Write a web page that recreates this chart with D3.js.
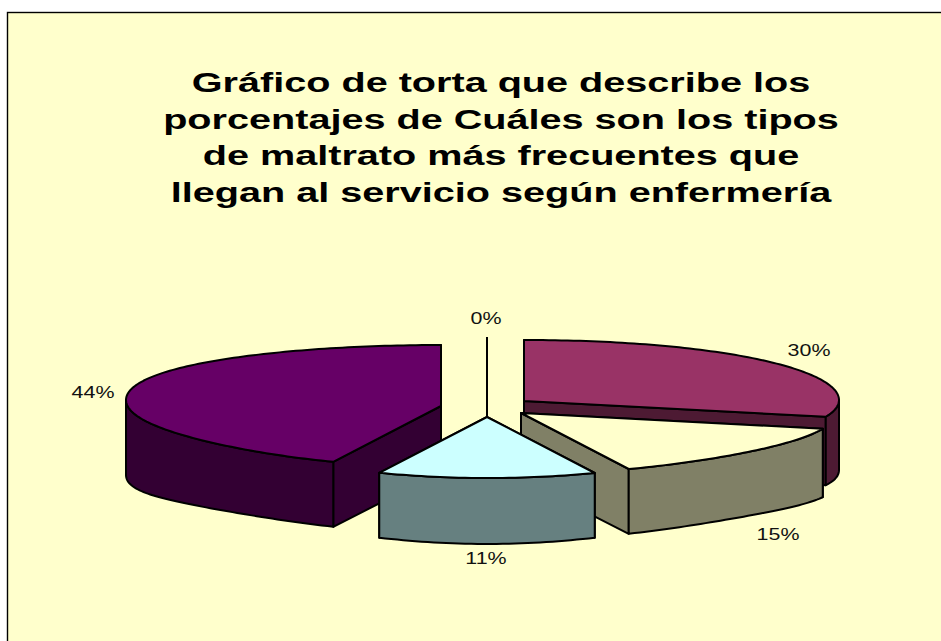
<!DOCTYPE html>
<html><head><meta charset="utf-8">
<script src="https://cdn.jsdelivr.net/npm/d3@7/dist/d3.min.js"></script>
<style>html,body{margin:0;padding:0;background:#fff}svg{display:block}</style>
</head><body><svg id="c" width="941" height="641"></svg>
<script>
const categories = ["a","b","c","d","e"];
const values = [29.6,14.8,11.1,44.4,0];
const titleLines = ["Gráfico de torta que describe los","porcentajes de Cuáles son los tipos","de maltrato más frecuentes que","llegan al servicio según enfermería"];
const topColors = ["#993366","#FFFFCC","#CCFFFF","#660066","#000000"];
const wallColors = ["#4D1A33","#808066","#668080","#330033","#000000"];

// layout: exploded apex of each slice, label centres
const apexX = {a:524,b:521,c:487,d:441,e:487};
const apexY = {a:401,b:413,c:417,d:406,e:398};
const labelPos = {a:[809,350],b:[778,534],c:[486,558],d:[93,392],e:[486,318]};
const rx = d3.scaleLinear().domain([-1,1]).range([-315,315]);
const ry = d3.scaleLinear().domain([-1,1]).range([-61,61]);
const depth = 66;

const svg = d3.select("#c");
svg.append("rect").attr("x",7.5).attr("y",12.5).attr("width",960).attr("height",660)
  .attr("fill","#FFFFCC").attr("stroke","#000").attr("stroke-width",1.4);

svg.append("g").selectAll("text").data(titleLines).join("text")
  .attr("transform",(d,i)=>`translate(501,${92+i*36.6}) scale(1.39,1)`).attr("text-anchor","middle")
  .attr("font-family","'Liberation Sans',Arial,sans-serif").attr("font-weight","bold").attr("font-size",28.5)
  .text(d=>d);

const pie = d3.pie().sort(null).value(d=>d.v);
const slices = pie(categories.map((c,i)=>({c,v:values[i],top:topColors[i],wall:wallColors[i]})));

// slight flattening of the near side of the ellipse, as in the projected original
function flat(v,k){return v>0 ? v-k*v*v*(1-v*v) : v;}
function rim(d,t,lower){
  const u=Math.sin(t), v=-Math.cos(t), a=d.data.c;
  const bulge=(3.5-2.5*u)*(1-v*v);
  return [apexX[a]+rx(u), lower
    ? apexY[a]+depth+ry(flat(v,0.46))+3*(1-v*v)
    : apexY[a]+ry(flat(v,0.16))-bulge];
}
function apex(d,lower){return [apexX[d.data.c],apexY[d.data.c]+(lower?depth:0)];}
function arcPts(d,t0,t1,lower){
  const n=Math.max(2,Math.ceil(Math.abs(t1-t0)/0.02));
  return d3.range(n+1).map(i=>rim(d,t0+(t1-t0)*i/n,lower));
}
const line=d3.line();
const g=svg.append("g").attr("stroke","#000").attr("stroke-width",2).attr("stroke-linejoin","round");
// paint order: zero slice, back-left, right, middle, front
const order=[4,3,0,1,2];
order.forEach(k=>{
  const d=slices[k], s=d.startAngle, e=d.endAngle;
  if(d.value===0){
    const t=rim(d,s,false), b=apex(d,true);
    g.append("path").attr("d",line([t,[b[0],b[1]]])).attr("fill","none");
    return;
  }
  [s,e].forEach(t=>{
    const p=[apex(d,false),rim(d,t,false),rim(d,t,true),apex(d,true)];
    g.append("path").attr("d",line(p)+"Z").attr("fill",d.data.wall);
  });
  // outer wall on the visible (front) half
  const a0=Math.max(s,Math.PI/2), a1=Math.min(e,Math.PI*1.5);
  if(a1>a0){
    const p=arcPts(d,a0,a1,false).concat(arcPts(d,a1,a0,true));
    g.append("path").attr("d",line(p)+"Z").attr("fill",d.data.wall);
  }
  const p=[apex(d,false)].concat(arcPts(d,s,e,false));
  g.append("path").attr("d",line(p)+"Z").attr("fill",d.data.top);
});

svg.append("g").selectAll("text").data(slices).join("text")
  .attr("transform",d=>`translate(${labelPos[d.data.c][0]},${labelPos[d.data.c][1]+6}) scale(1.3,1)`)
  .attr("text-anchor","middle").attr("font-family","'Liberation Sans',Arial,sans-serif").attr("font-size",16.5)
  .attr("fill","#111")
  .text(d=>d3.format(".0f")(d.value)+"%");
</script></body></html>
